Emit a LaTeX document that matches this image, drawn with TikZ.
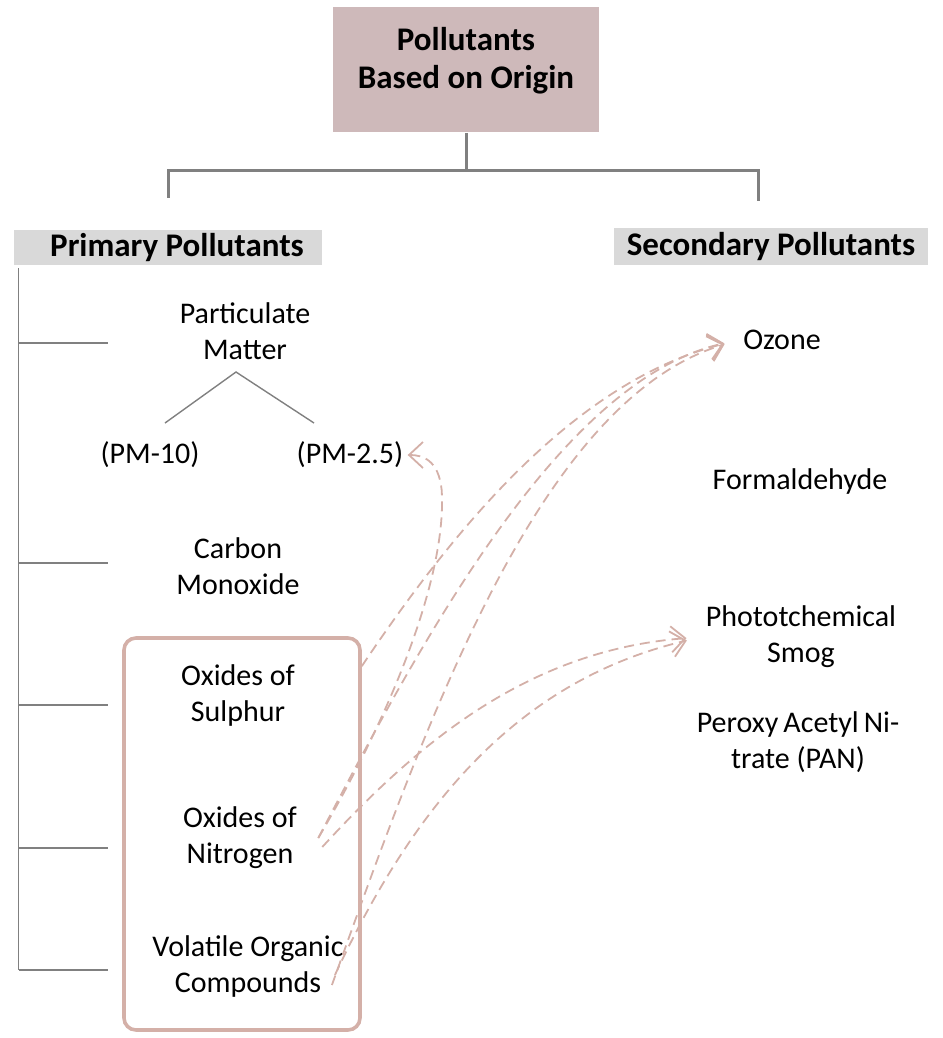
\documentclass[tikz,border=0pt]{standalone}
\usepackage{fontspec}
\setmainfont{Carlito}
\usetikzlibrary{arrows.meta}
\definecolor{rootpink}{RGB}{206,185,186}
\definecolor{headgray}{RGB}{217,217,217}
\definecolor{rose}{RGB}{212,176,168}
\definecolor{linegray}{RGB}{128,128,128}
\tikzset{
  item/.style={align=center,font=\fontsize{15}{18}\selectfont,inner sep=2pt},
  head/.style={fill=headgray,font=\bfseries\fontsize{16.5}{19}\selectfont,inner sep=0pt},
  trunk/.style={draw=linegray,line width=1.5pt},
  branch/.style={draw=linegray,line width=0.7pt},
  link/.style={draw=rose,dash pattern=on 5pt off 3pt,line width=0.9pt,->,
    >={Straight Barb[length=7pt,width=13pt]}},
}
\begin{document}
\begin{tikzpicture}[x=.5pt,y=-.5pt]
    \useasboundingbox (0,0) rectangle (942,1038);
    % headings
    \node[fill=rootpink,minimum width=133pt,minimum height=62.5pt,align=center,
      font=\bfseries\fontsize{16.5}{19}\selectfont] (root) at (466,70) {Pollutants\\Based on Origin\rule[-12pt]{0pt}{0pt}};
    \node[head,minimum width=154pt,minimum height=17.5pt] (primary) at (168,247.5) {\hspace*{9pt}Primary Pollutants};
    \node[head,minimum width=157pt,minimum height=18.5pt] (secondary) at (771,246.5) {Secondary Pollutants};
    \draw[trunk] (root.south) -- ++(0,38) coordinate (fork);
    \draw[trunk] ([yshift=16pt]primary.north) |- (fork) -| ([shift={(-13,-27)}]secondary.north);
    % group round the gases
    \node[draw=rose,line width=1.8pt,rounded corners=6pt,minimum width=118pt,minimum height=196pt] (grp) at (242,834) {};
    % primary items
    \node[item] (pm) at (245,331) {Particulate\\Matter};
    \node[item] (pm10) at (150,455) {(PM-10)};
    \node[item] (pm25) at (350,455) {(PM-2.5)};
    \node[item] (co) at (238,566) {Carbon\\Monoxide};
    \node[item] (sox) at (238,695) {Oxides of\\Sulphur};
    \node[item] (nox) at (240,838) {Oxides of\\Nitrogen};
    \node[item] (voc) at (248,966) {Volatile Organic\\Compounds};
    % secondary items
    \node[item] (ozone) at (782,340) {Ozone};
    \node[item] (hcho) at (800,481) {Formaldehyde};
    \node[item] (smog) at (801,637) {Phototchemical\\Smog};
    \node[item] (pan) at (798,742) {Peroxy\,Acetyl\,Ni-\\trate (PAN)};
    % spine and ticks
    \coordinate (spine) at ([shift={(5,3)}]primary.south west);
    \path (spine |- voc) ++(0,4) coordinate (spineend);
    \draw[branch] (spine) -- (spineend);
    \foreach \n/\d in {pm/12,co/-3,sox/10,nox/10,voc/4}
      \draw[branch] (spine |- \n) ++(0,\d) -- ++(89,0);
    \draw[branch] ([shift={(15,-32)}]pm10.center) -- ([shift={(-9,41)}]pm.center)
      -- ([shift={(-36,-32)}]pm25.center);
    % dashed links
    \draw[link,shorten >=7.5pt] ([yshift=-15pt]grp.north east) .. controls +(99,-148) and +(-159,40) .. (ozone.west);
    \draw[link,shorten >=7.5pt] ([xshift=8.5pt]nox.east) .. controls +(102,-195) and +(-179,40) .. (ozone.west);
    \draw[link] ([xshift=8.5pt]nox.east) .. controls +(85,-145) and +(5,75) .. ([shift={(34,35)}]pm25.east)
      .. controls +(-3,-30) and +(15,0) .. (pm25.east);
    \draw[link,shorten >=7.5pt] ([shift={(21,9)}]nox.east) .. controls +(98,-107) and +(-171,13) .. (smog.west);
    \draw[link,shorten >=7.5pt] ([shift={(-16,19)}]voc.east) .. controls +(95,-265) and +(-199,60) .. (ozone.west);
    \draw[link,shorten >=7.5pt] ([shift={(-13,9)}]voc.east) .. controls +(82,-175) and +(-181,43) .. (smog.west);
\end{tikzpicture}
\end{document}
